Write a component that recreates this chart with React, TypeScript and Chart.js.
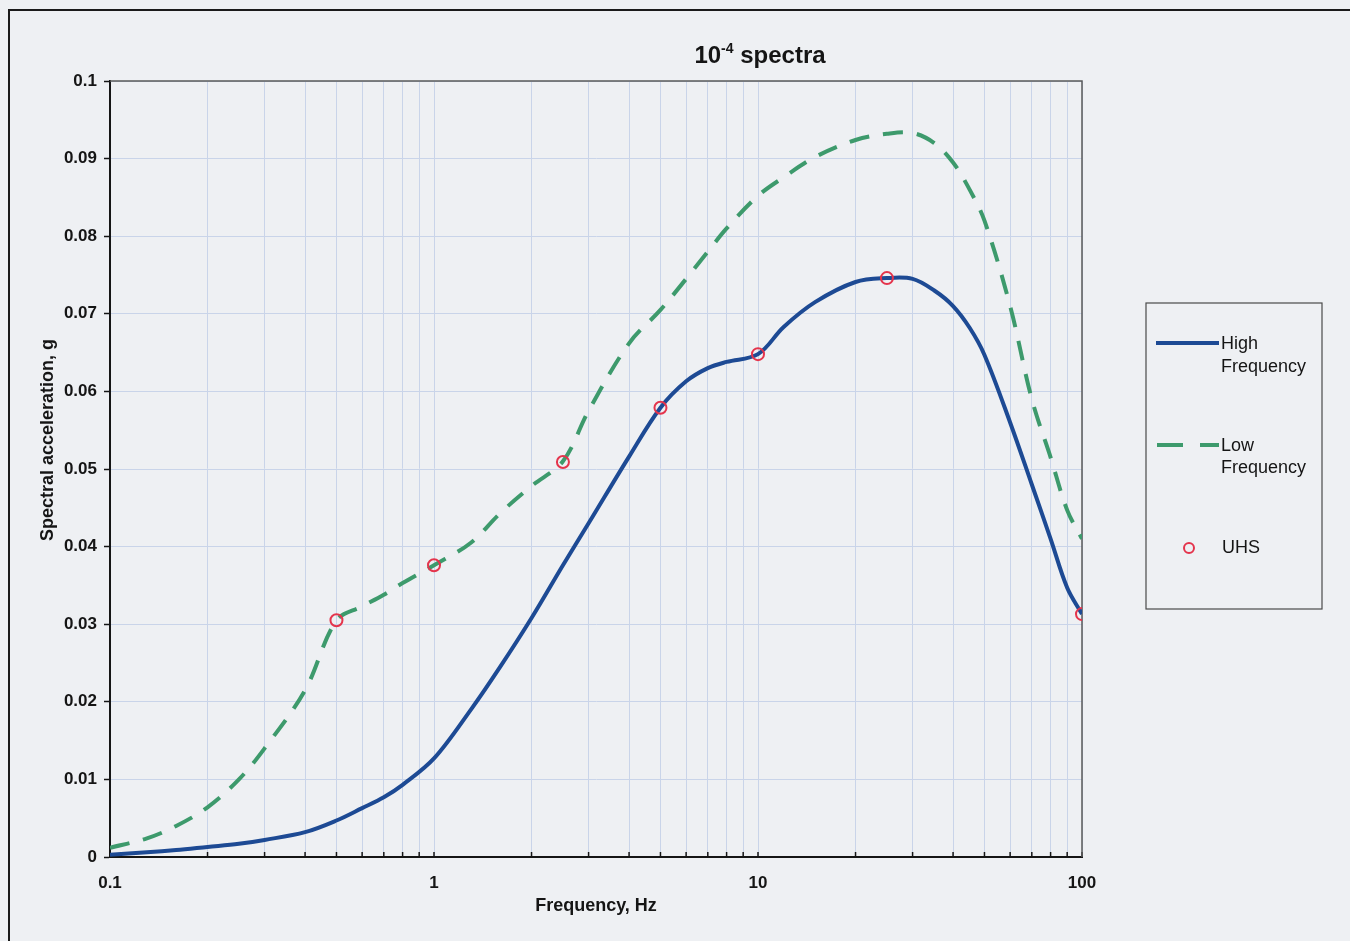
import React, { useEffect, useRef } from 'react';
import { Chart, registerables } from 'chart.js';

Chart.register(...registerables);

// ---- data ----
const frequencies = [0.1, 0.13, 0.16, 0.2, 0.25, 0.3, 0.4, 0.5, 0.6, 0.7, 0.8, 1, 1.3, 1.6, 2, 2.5, 3, 4, 5, 6, 7, 8, 10, 12, 15, 20, 25, 30, 35, 40, 45, 50, 60, 70, 80, 90, 100];
const highFrequency = [0.0003, 0.0006, 0.0009, 0.0013, 0.0017, 0.0022, 0.0032, 0.0047, 0.0063, 0.0077, 0.0093, 0.0127, 0.019, 0.0245, 0.0308, 0.0376, 0.043, 0.0516, 0.0579, 0.0613, 0.063, 0.0638, 0.0648, 0.0683, 0.0715, 0.0741, 0.0746, 0.0745, 0.073, 0.071, 0.0682, 0.0647, 0.056, 0.048, 0.041, 0.0347, 0.0313];
const lowFrequency = [0.0012, 0.0024, 0.004, 0.0064, 0.01, 0.014, 0.0215, 0.0305, 0.0323, 0.0338, 0.0353, 0.0376, 0.0405, 0.0443, 0.0478, 0.051, 0.0575, 0.0662, 0.0705, 0.0745, 0.078, 0.081, 0.0852, 0.0876, 0.0902, 0.0924, 0.0932, 0.0933, 0.092, 0.0895, 0.086, 0.082, 0.071, 0.059, 0.0515, 0.0447, 0.041];
const uhsFrequencies = [0.5, 1, 2.5, 5, 10, 25, 100];
const uhsValues = [0.0305, 0.0376, 0.0509, 0.0579, 0.0648, 0.0746, 0.0313];

const xTickValues = [0.1, 0.2, 0.3, 0.4, 0.5, 0.6, 0.7, 0.8, 0.9, 1, 2, 3, 4, 5, 6, 7, 8, 9, 10, 20, 30, 40, 50, 60, 70, 80, 90, 100];
const xLabelValues = [0.1, 1, 10, 100];
const yMin = 0;
const yMax = 0.1;
const yStep = 0.01;

const titleMain = '10';
const titleSup = '-4';
const titleRest = ' spectra';
const xAxisTitle = 'Frequency, Hz';
const yAxisTitle = 'Spectral acceleration, g';
const legendHigh = ['High', 'Frequency'];
const legendLow = ['Low', 'Frequency'];
const legendUhs = 'UHS';

// ---- styles ----
const BG = '#eef0f3';
const FONT = '"Liberation Sans", Arial, Helvetica, sans-serif';
const BLUE = '#1d4a94';
const GREEN = '#3d9a6c';
const RED = '#e4344c';
const GRID = '#c9d4e9';
const INK = '#151515';

export default function App() {
  const ref = useRef<HTMLCanvasElement>(null);

  useEffect(() => {
    const decor = {
      id: 'decor',
      beforeDatasetsDraw(chart: any) {
        const ctx = chart.ctx;
        const { chartArea } = chart;
        const xs = chart.scales.x;
        ctx.save();
        ctx.strokeStyle = INK;
        ctx.lineWidth = 1.5;
        xTickValues.forEach((v) => {
          const px = xs.getPixelForValue(v);
          ctx.beginPath();
          ctx.moveTo(px, chartArea.bottom);
          ctx.lineTo(px, chartArea.bottom - 5);
          ctx.stroke();
        });
        ctx.strokeStyle = '#5a5a5a';
        ctx.lineWidth = 1.5;
        ctx.beginPath();
        ctx.moveTo(chartArea.left, chartArea.top);
        ctx.lineTo(chartArea.right, chartArea.top);
        ctx.lineTo(chartArea.right, chartArea.bottom);
        ctx.stroke();
        ctx.restore();
      },
      afterDraw(chart: any) {
        const ctx = chart.ctx;
        const { chartArea } = chart;
        ctx.save();
        ctx.fillStyle = INK;
        ctx.textBaseline = 'alphabetic';
        ctx.textAlign = 'left';

        const bigFont = `bold 24px ${FONT}`;
        const supFont = `bold 14px ${FONT}`;
        ctx.font = bigFont;
        const w1 = ctx.measureText(titleMain).width;
        const w3 = ctx.measureText(titleRest).width;
        ctx.font = supFont;
        const w2 = ctx.measureText(titleSup).width;
        const total = w1 + w2 + w3;
        let tx = 760 - total / 2;
        const base = 63;
        ctx.font = bigFont;
        ctx.fillText(titleMain, tx, base);
        tx += w1;
        ctx.font = supFont;
        ctx.fillText(titleSup, tx, base - 10);
        tx += w2;
        ctx.font = bigFont;
        ctx.fillText(titleRest, tx, base);

        ctx.font = `bold 18px ${FONT}`;
        ctx.textAlign = 'center';
        ctx.textBaseline = 'middle';
        ctx.fillText(xAxisTitle, (chartArea.left + chartArea.right) / 2, 906);
        ctx.save();
        ctx.translate(48, 440);
        ctx.rotate(-Math.PI / 2);
        ctx.fillText(yAxisTitle, 0, 0);
        ctx.restore();

        const lx = 1146, ly = 303, lw = 176, lh = 306;
        ctx.strokeStyle = '#4a4a4a';
        ctx.lineWidth = 1.2;
        ctx.strokeRect(lx, ly, lw, lh);

        const dsHigh = chart.data.datasets[0];
        const dsLow = chart.data.datasets[1];
        const dsUhs = chart.data.datasets[2];

        ctx.lineCap = 'butt';
        ctx.strokeStyle = dsHigh.borderColor;
        ctx.lineWidth = dsHigh.borderWidth;
        ctx.beginPath();
        ctx.moveTo(1156, 343);
        ctx.lineTo(1219, 343);
        ctx.stroke();

        ctx.strokeStyle = dsLow.borderColor;
        ctx.lineWidth = dsLow.borderWidth;
        ctx.setLineDash([26, 17]);
        ctx.beginPath();
        ctx.moveTo(1157, 445);
        ctx.lineTo(1219, 445);
        ctx.stroke();
        ctx.setLineDash([]);

        ctx.strokeStyle = dsUhs.borderColor;
        ctx.lineWidth = 2;
        ctx.beginPath();
        ctx.arc(1189, 548, 5, 0, Math.PI * 2);
        ctx.stroke();

        ctx.font = `18px ${FONT}`;
        ctx.textAlign = 'left';
        ctx.textBaseline = 'middle';
        ctx.fillStyle = INK;
        ctx.fillText(legendHigh[0], 1221, 344);
        ctx.fillText(legendHigh[1], 1221, 367);
        ctx.fillText(legendLow[0], 1221, 446);
        ctx.fillText(legendLow[1], 1221, 468);
        ctx.fillText(legendUhs, 1222, 548);

        ctx.restore();
      },
    };

    const chart = new Chart(ref.current as HTMLCanvasElement, {
      type: 'scatter',
      data: {
        datasets: [
          {
            label: 'High Frequency',
            data: frequencies.map((x, i) => ({ x, y: highFrequency[i] })),
            borderColor: BLUE,
            backgroundColor: BLUE,
            borderWidth: 4,
            pointRadius: 0,
            showLine: true,
            tension: 0.35,
            order: 1,
          },
          {
            label: 'Low Frequency',
            data: frequencies.map((x, i) => ({ x, y: lowFrequency[i] })),
            borderColor: GREEN,
            backgroundColor: GREEN,
            borderWidth: 4,
            borderDash: [20, 14],
            pointRadius: 0,
            showLine: true,
            tension: 0.35,
            order: 2,
          },
          {
            label: 'UHS',
            data: uhsFrequencies.map((x, i) => ({ x, y: uhsValues[i] })),
            borderColor: RED,
            backgroundColor: 'rgba(0,0,0,0)',
            pointRadius: 6,
            pointBorderWidth: 2,
            pointStyle: 'circle',
            showLine: false,
            order: 0,
          },
        ],
      },
      options: {
        responsive: false,
        devicePixelRatio: 1,
        animation: false,
        layout: { padding: { left: 10, top: 81, right: 268, bottom: 0 } },
        plugins: {
          legend: { display: false },
          title: { display: false },
          tooltip: { enabled: false },
        },
        scales: {
          x: {
            type: 'logarithmic',
            min: 0.1,
            max: 100,
            afterBuildTicks: (s: any) => {
              s.ticks = xTickValues.map((v) => ({ value: v, major: xLabelValues.includes(v) }));
            },
            afterFit: (s: any) => {
              s.height = 84;
            },
            ticks: {
              autoSkip: false,
              maxRotation: 0,
              minRotation: 0,
              padding: 16,
              color: INK,
              font: { family: FONT, size: 17, weight: 'bold' },
              callback: (v: any) => (xLabelValues.includes(v) ? String(v) : ''),
            },
            grid: { color: GRID, lineWidth: 1, drawTicks: false },
            border: { color: INK, width: 2 },
          },
          y: {
            type: 'linear',
            min: yMin,
            max: yMax,
            afterFit: (s: any) => {
              s.width = 100;
            },
            ticks: {
              stepSize: yStep,
              padding: 7,
              color: INK,
              font: { family: FONT, size: 17, weight: 'bold' },
              callback: (v: any) => String(Number(Number(v).toFixed(2))),
            },
            grid: { color: GRID, lineWidth: 1, tickColor: INK, tickLength: 6, tickWidth: 1.5 },
            border: { color: INK, width: 2 },
          },
        },
      },
      plugins: [decor],
    } as any);

    return () => chart.destroy();
  }, []);

  return (
    <div style={{ position: 'fixed', left: 0, top: 0, width: 1350, height: 941, background: BG, overflow: 'hidden' }}>
      <div style={{ position: 'absolute', left: 8, top: 9, width: 1400, height: 1000, border: '2px solid #1a1a1a' }} />
      <canvas ref={ref} width={1350} height={941} style={{ position: 'absolute', left: 0, top: 0 }} />
    </div>
  );
}
